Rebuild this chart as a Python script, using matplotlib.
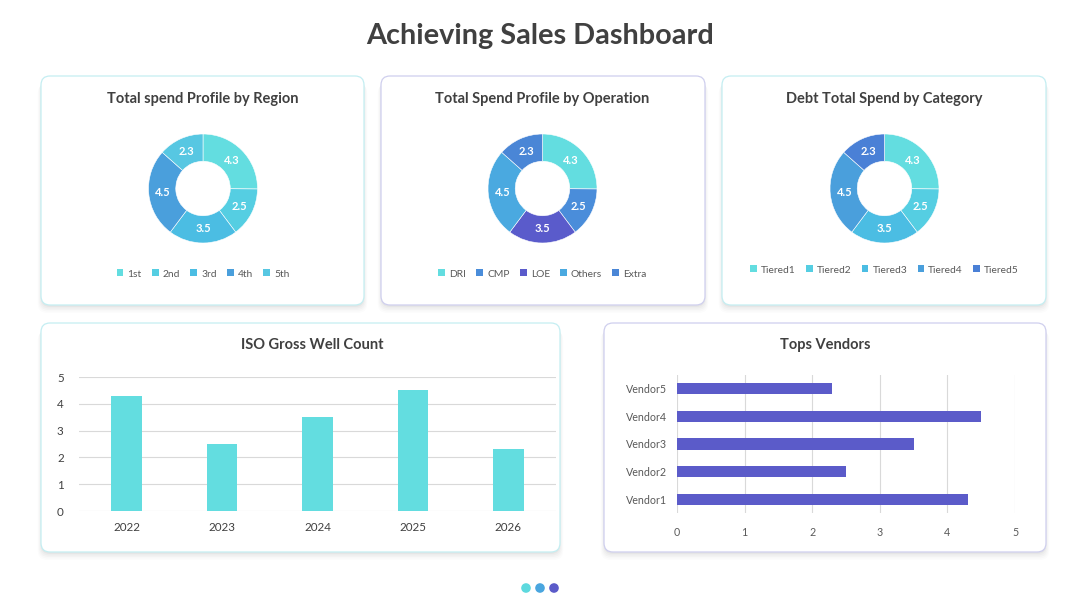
import matplotlib
matplotlib.use("Agg")
import matplotlib.pyplot as plt
from matplotlib.patches import FancyBboxPatch, Circle
import numpy as np

plt.rcParams['font.family'] = ['Lato', 'DejaVu Sans']

W, H = 1080, 608

# ---------------- data ----------------
title = "Achieving Sales Dashboard"

region_labels = ["1st", "2nd", "3rd", "4th", "5th"]
region_values = [4.3, 2.5, 3.5, 4.5, 2.3]
region_colors = ["#63DDE0", "#55CEE2", "#4BBDE3", "#4A9FDC", "#57C7E2"]

operation_labels = ["DRI", "CMP", "LOE", "Others", "Extra"]
operation_values = [4.3, 2.5, 3.5, 4.5, 2.3]
operation_colors = ["#63DDE0", "#4A8DDA", "#5A5BCB", "#4AA9E0", "#4A86D6"]

category_labels = ["Tiered1", "Tiered2", "Tiered3", "Tiered4", "Tiered5"]
category_values = [4.3, 2.5, 3.5, 4.5, 2.3]
category_colors = ["#63DDE0", "#55CEE2", "#4BBDE3", "#4A9FDC", "#4A80D6"]

years = ["2022", "2023", "2024", "2025", "2026"]
well_counts = [4.3, 2.5, 3.5, 4.5, 2.3]

vendors = ["Vendor1", "Vendor2", "Vendor3", "Vendor4", "Vendor5"]
vendor_values = [4.3, 2.5, 3.5, 4.5, 2.3]

dot_colors = ["#5DD9DE", "#4AA6DF", "#5B5BC9"]

TXT = "#404040"
TICK = "#595959"
GRID = "#D9D9D9"

fig = plt.figure(figsize=(W / 100, H / 100), dpi=100)
fig.patch.set_facecolor("white")


def px_axes(x0, y0, x1, y1, **kw):
    return fig.add_axes([x0 / W, 1 - y1 / H, (x1 - x0) / W, (y1 - y0) / H], **kw)


# background axes for panels
bg = px_axes(0, 0, W, H)
bg.set_xlim(0, W)
bg.set_ylim(H, 0)
bg.axis("off")
bg.set_zorder(-10)

panels = [
    (41, 76, 364, 305, "#C4EEF2"),
    (381, 76, 705, 305, "#CFCFEE"),
    (722, 76, 1046, 305, "#C4EEF2"),
    (41, 323, 560, 552, "#C4EEF2"),
    (604, 323, 1046, 552, "#CFCFEE"),
]
for x0, y0, x1, y1, ec in panels:
    for i, a in enumerate([0.03, 0.025, 0.02, 0.015, 0.01]):
        off = 2 + i * 1.5
        bg.add_patch(FancyBboxPatch((x0 - i * 0.8, y0 + off), x1 - x0 + i * 1.6, y1 - y0,
                                    boxstyle="round,pad=0,rounding_size=9",
                                    fc="#000000", ec="none", alpha=a))
    bg.add_patch(FancyBboxPatch((x0, y0), x1 - x0, y1 - y0,
                                boxstyle="round,pad=0,rounding_size=9",
                                fc="white", ec=ec, lw=0.9))

bg.text(540, 36, title, ha="center", va="center", fontsize=20.8, fontweight="bold", color=TXT)

# dots
for cx, c in zip([526, 540, 554], dot_colors):
    bg.add_patch(Circle((cx, 588), 4.8, fc=c, ec="none"))


# ---------------- donuts ----------------
def donut(cx, cy, r, labels, values, colors, ttl, legend_y):
    ax = px_axes(cx - r, cy - r, cx + r, cy + r)
    wedges, texts = ax.pie(values, colors=colors, startangle=90, counterclock=False,
                           radius=1.0, labels=[f"{v}" for v in values], labeldistance=0.74,
                           wedgeprops=dict(width=0.5, edgecolor="white", linewidth=0.4),
                           textprops=dict(color="white", fontsize=8, fontweight="bold",
                                          ha="center", va="center"))
    for t in texts:
        t.set_ha("center")
        t.set_va("center")
    ax.set_xlim(-1, 1)
    ax.set_ylim(-1, 1)
    ax.set_aspect("equal")
    ax.axis("off")
    bg.text(cx, 99, ttl, ha="center", va="center", fontsize=10.5, fontweight="bold", color=TXT)
    leg = ax.legend(wedges, labels, loc="center", bbox_to_anchor=(cx / W, 1 - legend_y / H),
                    bbox_transform=fig.transFigure, ncol=len(labels), frameon=False,
                    fontsize=7.4, handlelength=0.65, handleheight=0.65, columnspacing=1.0,
                    handletextpad=0.4, borderaxespad=0)
    for t in leg.get_texts():
        t.set_color(TICK)
    for h in leg.legend_handles:
        h.set_edgecolor("none")


donut(203, 188.5, 54.5, region_labels, region_values, region_colors,
      "Total spend Profile by Region", 274)
donut(542.5, 188.5, 54.5, operation_labels, operation_values, operation_colors,
      "Total Spend Profile by Operation", 274)
donut(884.5, 188.5, 54.5, category_labels, category_values, category_colors,
      "Debt Total Spend by Category", 270)

# ---------------- column chart ----------------
ax4 = px_axes(79, 377, 556, 511)
x = np.arange(len(years))
ax4.bar(x, well_counts, width=0.32, color="#63DDE0", zorder=3)
ax4.set_xlim(-0.5, len(years) - 0.5)
ax4.set_ylim(0, 5)
ax4.set_yticks(range(0, 6))
ax4.set_xticks(x)
ax4.set_xticklabels(years)
ax4.grid(axis="y", color=GRID, lw=0.8, zorder=0)
ax4.tick_params(length=0, labelsize=8.4, colors=TXT)
ax4.tick_params(axis="y", pad=11)
ax4.tick_params(axis="x", pad=8)
for s in ax4.spines.values():
    s.set_visible(False)
ax4.set_facecolor("none")
bg.text(312, 345, "ISO Gross Well Count", ha="center", va="center", fontsize=10.5,
        fontweight="bold", color=TXT)

# ---------------- horizontal bar chart ----------------
ax5 = px_axes(677, 375, 1015, 513)
y = np.arange(len(vendors))
ax5.barh(y, vendor_values, height=0.4, color="#5B5BC9", zorder=3)
ax5.set_ylim(-0.5, len(vendors) - 0.5)
ax5.set_xlim(0, 5)
ax5.set_xticks(range(0, 6))
ax5.set_yticks(y)
ax5.set_yticklabels(vendors)
ax5.grid(axis="x", color=GRID, lw=0.8, zorder=0)
ax5.tick_params(length=0, labelsize=7.7, colors=TICK)
ax5.tick_params(axis="y", pad=7)
ax5.tick_params(axis="x", pad=10)
for s in ax5.spines.values():
    s.set_visible(False)
ax5.set_facecolor("none")
bg.text(825, 345, "Tops Vendors", ha="center", va="center", fontsize=10.5,
        fontweight="bold", color=TXT)

fig.savefig("out.png", dpi=100, facecolor="white")
